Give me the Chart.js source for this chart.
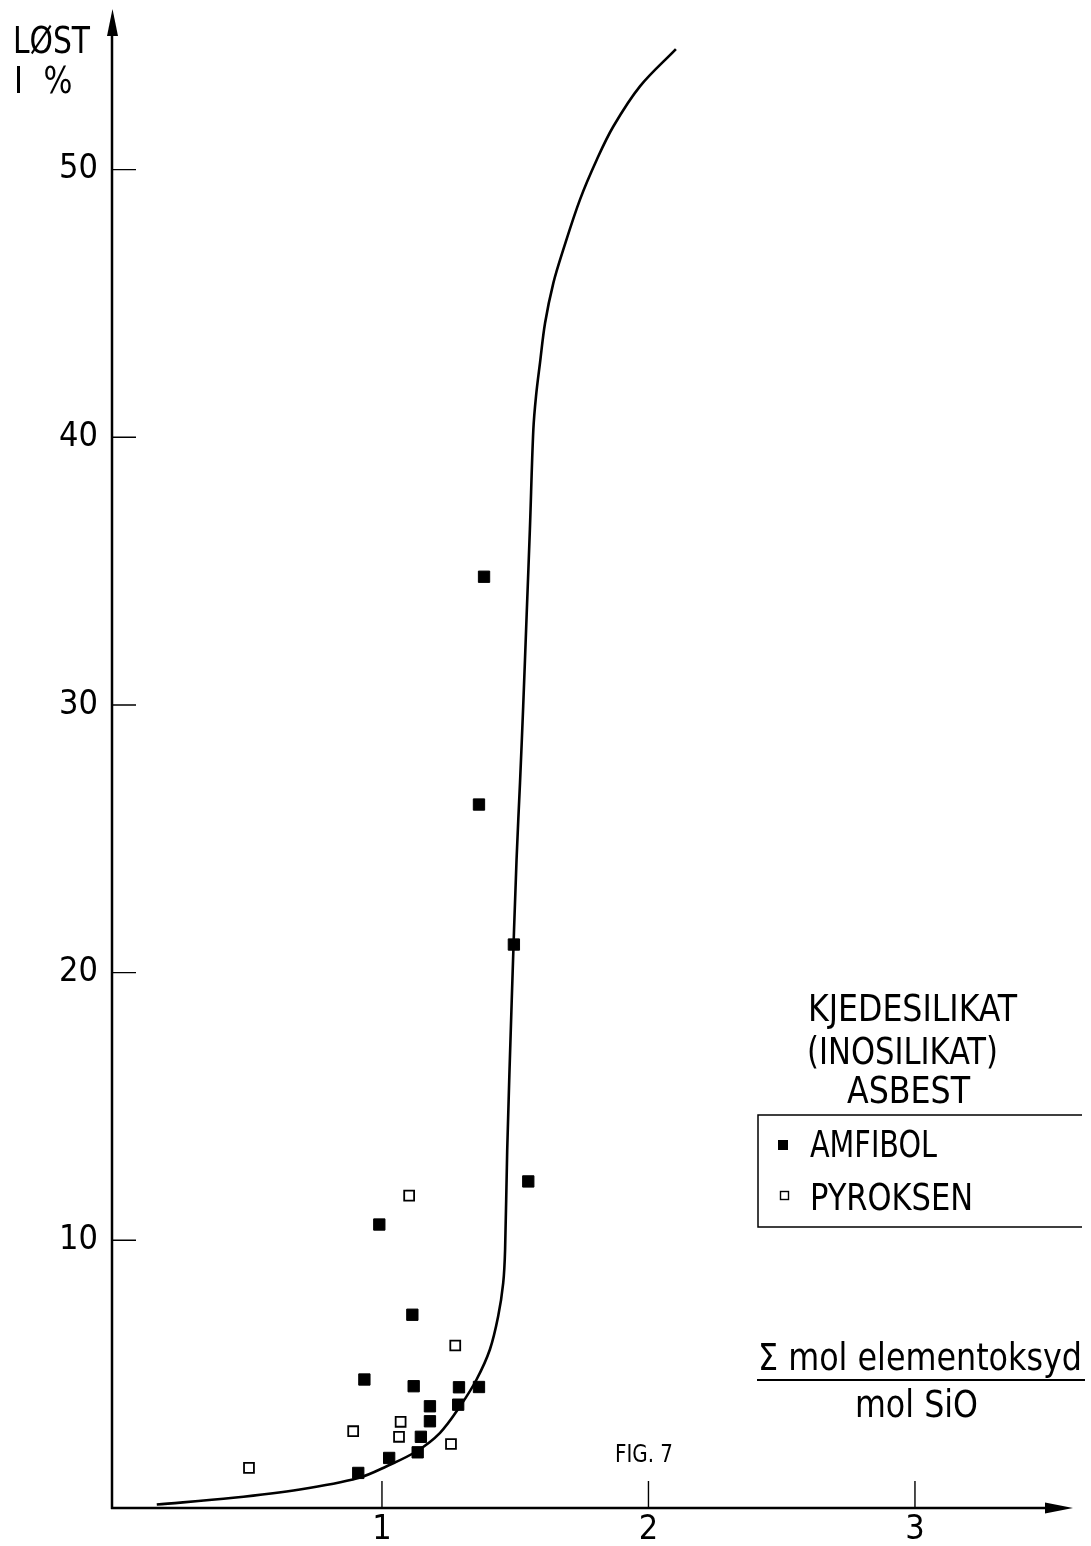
<!DOCTYPE html>
<html><head><meta charset="utf-8">
<script src="https://cdn.jsdelivr.net/npm/chart.js@4/dist/chart.umd.min.js"></script>
<style>html,body{margin:0;padding:0;background:#fff}canvas{display:block}</style>
</head><body>
<canvas id="c" width="1091" height="1546"></canvas>
<script>
// ---- data ----
const amfibolX = [1.549, 0.990, 1.114, 0.934, 1.119, 1.289, 1.364, 1.180, 1.286, 1.180, 1.146, 1.134, 1.027, 0.911, 1.383, 1.364, 1.495];
const amfibolY = [12.20, 10.59, 7.22, 4.80, 4.55, 4.51, 4.52, 3.80, 3.86, 3.24, 2.66, 2.08, 1.87, 1.31, 34.79, 26.28, 21.05];
const pyroksenX = [1.102, 1.275, 1.070, 0.892, 1.064, 1.259, 0.501];
const pyroksenY = [11.67, 6.07, 3.22, 2.87, 2.66, 2.39, 1.50];
const curveX = [0.155, 0.442, 0.692, 0.911, 1.018, 1.130, 1.218, 1.293, 1.355, 1.405, 1.436, 1.455, 1.462, 1.470, 1.487, 1.505, 1.518, 1.530, 1.543, 1.555, 1.568, 1.578, 1.593, 1.612, 1.643, 1.680, 1.743, 1.806, 1.868, 1.968, 2.103];
const curveY = [0.13, 0.38, 0.69, 1.12, 1.56, 2.12, 2.81, 3.80, 4.80, 5.92, 7.16, 8.41, 9.65, 13.39, 18.99, 24.22, 27.10, 29.96, 33.39, 36.55, 40.28, 41.53, 42.78, 44.27, 45.76, 47.00, 48.88, 50.37, 51.61, 53.11, 54.50];
const xTickLabels = [1, 2, 3];
const yTickLabels = [10, 20, 30, 40, 50];
const legendTitle = ["KJEDESILIKAT", "(INOSILIKAT)", "ASBEST"];
const seriesNames = ["AMFIBOL", "PYROKSEN"];
const yAxisTitle = ["LØST", "I %"];
const xAxisTitle = ["Σ mol elementoksyd", "mol SiO"];
const figLabel = "FIG. 7";

const FONT = "'Liberation Sans Narrow','DejaVu Sans Condensed','Liberation Sans',sans-serif";
const zip = (xs, ys) => xs.map((x, i) => ({x, y: ys[i]}));

// draw text squeezed horizontally to a target width
function fitText(ctx, text, left, baseline, width) {
  const w = ctx.measureText(text).width;
  const sx = Math.min(1.0, width / w);
  ctx.save();
  ctx.translate(left, baseline);
  ctx.scale(sx, 1);
  ctx.textAlign = 'left';
  ctx.fillText(text, 0, 0);
  ctx.restore();
}

const decor = {
  id: 'decor',
  beforeDatasetsDraw(chart) {
    const ctx = chart.ctx, a = chart.chartArea, xs = chart.scales.x, ys = chart.scales.y;
    ctx.save();
    ctx.strokeStyle = '#000'; ctx.fillStyle = '#000';
    ctx.lineWidth = 2.5;
    ctx.beginPath();
    ctx.moveTo(a.left, a.bottom + 1); ctx.lineTo(a.left, a.top + 20);
    ctx.moveTo(a.left - 1, a.bottom); ctx.lineTo(a.right - 20, a.bottom);
    ctx.stroke();
    ctx.beginPath();
    ctx.moveTo(a.left + 0.5, a.top); ctx.lineTo(a.left - 5, a.top + 27); ctx.lineTo(a.left + 6, a.top + 27); ctx.closePath();
    ctx.fill();
    ctx.beginPath();
    ctx.moveTo(a.right, a.bottom); ctx.lineTo(a.right - 28, a.bottom - 5.5); ctx.lineTo(a.right - 28, a.bottom + 5.5); ctx.closePath();
    ctx.fill();
    ctx.lineWidth = 1.4;
    ctx.beginPath();
    xTickLabels.forEach(v => { const p = xs.getPixelForValue(v); ctx.moveTo(p, a.bottom); ctx.lineTo(p, a.bottom - 27); });
    yTickLabels.forEach(v => { const p = ys.getPixelForValue(v); ctx.moveTo(a.left, p); ctx.lineTo(a.left + 24, p); });
    ctx.stroke();
    ctx.restore();
  },
  afterDraw(chart) {
    const ctx = chart.ctx;
    ctx.save();
    ctx.fillStyle = '#000'; ctx.strokeStyle = '#000';
    ctx.textBaseline = 'alphabetic';
    ctx.font = `37px ${FONT}`;
    fitText(ctx, yAxisTitle[0], 13, 53, 77);
    ctx.save(); ctx.letterSpacing = '6px';
    fitText(ctx, yAxisTitle[1], 14, 93, 64);
    ctx.restore();
    fitText(ctx, legendTitle[0], 808, 1021, 209);
    fitText(ctx, legendTitle[1], 807, 1064, 191);
    fitText(ctx, legendTitle[2], 847, 1103, 123);
    ctx.lineWidth = 1.5;
    ctx.beginPath();
    ctx.moveTo(1082, 1115); ctx.lineTo(758, 1115); ctx.lineTo(758, 1227); ctx.lineTo(1082, 1227);
    ctx.stroke();
    ctx.fillRect(778, 1140, 10, 10);
    ctx.lineWidth = 1.4;
    ctx.strokeRect(780.5, 1191.5, 8, 8);
    fitText(ctx, seriesNames[0], 810, 1157, 127);
    fitText(ctx, seriesNames[1], 810, 1210, 163);
    fitText(ctx, xAxisTitle[0], 758, 1370, 324);
    ctx.lineWidth = 2;
    ctx.beginPath(); ctx.moveTo(757, 1380); ctx.lineTo(1085, 1380); ctx.stroke();
    fitText(ctx, xAxisTitle[1], 855, 1417, 123);
    ctx.font = `25px ${FONT}`;
    fitText(ctx, figLabel, 615, 1462, 58);
    ctx.restore();
  }
};

new Chart(document.getElementById('c'), {
  type: 'scatter',
  data: {
    datasets: [
      { label: 'curve', data: zip(curveX, curveY), showLine: true, borderColor: '#000', borderWidth: 2.6,
        pointRadius: 0, tension: 0.35, fill: false },
      { label: seriesNames[0], data: zip(amfibolX, amfibolY), pointStyle: 'rect', pointRadius: 8,
        backgroundColor: '#000', borderColor: '#000', borderWidth: 1 },
      { label: seriesNames[1], data: zip(pyroksenX, pyroksenY), pointStyle: 'rect', pointRadius: 7,
        backgroundColor: '#fff', borderColor: '#000', borderWidth: 1.8 }
    ]
  },
  options: {
    responsive: false, animation: false, events: [],
    layout: { padding: { top: 8, right: 18, left: 0, bottom: 0 } },
    plugins: { legend: { display: false }, tooltip: { enabled: false } },
    scales: {
      x: {
        type: 'linear', min: -0.013, max: 3.593,
        grid: { display: false, drawTicks: false }, border: { display: false },
        afterFit: s => { s.height = 38; s.paddingLeft = 0; s.paddingRight = 0; },
        ticks: { stepSize: 1, padding: 2, color: '#000', font: { family: FONT, size: 34 },
          callback: v => xTickLabels.includes(v) ? String(v) : '' }
      },
      y: {
        type: 'linear', min: 0, max: 56,
        grid: { display: false, drawTicks: false }, border: { display: false },
        afterFit: s => { s.width = 112; s.paddingTop = 0; s.paddingBottom = 0; },
        ticks: { stepSize: 10, padding: 14, color: '#000', font: { family: FONT, size: 34 },
          callback: v => yTickLabels.includes(v) ? String(v) : '' }
      }
    }
  },
  plugins: [decor]
});
</script>
</body></html>
